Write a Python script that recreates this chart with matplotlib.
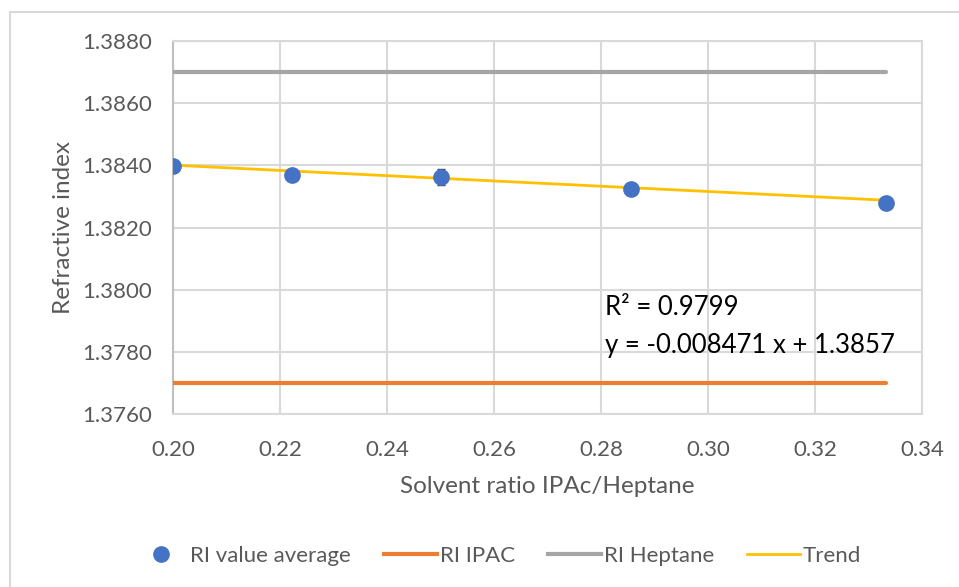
import matplotlib
matplotlib.use("Agg")
import matplotlib.pyplot as plt
from matplotlib.lines import Line2D
from matplotlib.patches import Rectangle
import numpy as np

plt.rcParams['font.family'] = ['Lato', 'DejaVu Sans']

# Measured data
ratio = [0.2000, 0.2222, 0.2500, 0.2857, 0.3333]
ri_avg = [1.38397, 1.38369, 1.38362, 1.38325, 1.38280]
ri_err = [0.00004, 0.00004, 0.00025, 0.00004, 0.00004]

# Reference values of the pure solvents
ri_ipac = 1.3770
ri_heptane = 1.3870

# Linear trend
slope = -0.008471
intercept = 1.3857
r_squared = 0.9799

x_ticks = [0.20, 0.22, 0.24, 0.26, 0.28, 0.30, 0.32, 0.34]
y_ticks = [1.3760, 1.3780, 1.3800, 1.3820, 1.3840, 1.3860, 1.3880]

BLUE = '#4472C4'
ORANGE = '#ED7D31'
GRAY = '#A5A5A5'
YELLOW = '#FFC000'
TEXT = '#595959'
GRID = '#D9D9D9'

fig = plt.figure(figsize=(9.59, 5.87), dpi=100)
fig.patches.append(Rectangle((10 / 959, -0.05), 1.1, 1 - 12 / 587 + 0.05,
                             transform=fig.transFigure, fill=False,
                             edgecolor='#D9D9D9', linewidth=1.5))

ax = fig.add_axes([173 / 959, 1 - 414 / 587, (922 - 173) / 959, (414 - 41) / 587])

xr = np.array([ratio[0], ratio[-1]])
ax.plot(xr, [ri_heptane, ri_heptane], color=GRAY, lw=3, solid_capstyle='round', zorder=3)
ax.plot(xr, [ri_ipac, ri_ipac], color=ORANGE, lw=3, solid_capstyle='round', zorder=3)
ax.plot(xr, slope * xr + intercept, color=YELLOW, lw=2, zorder=3)
ax.errorbar(ratio, ri_avg, yerr=ri_err, fmt='o', color=BLUE, ms=11,
            ecolor='#404040', elinewidth=1, capsize=3, capthick=1, zorder=4)

ax.set_xlim(0.20, 0.34)
ax.set_ylim(1.3760, 1.3880)
ax.set_xticks(x_ticks)
ax.set_xticklabels([f'{v:.2f}' for v in x_ticks])
ax.set_yticks(y_ticks)
ax.set_yticklabels([f'{v:.4f}' for v in y_ticks])
ax.grid(True, color=GRID, lw=1.5)
ax.set_axisbelow(True)
for s in ax.spines.values():
    s.set_color(GRID)
    s.set_linewidth(1.5)
ax.spines['left'].set_color('#BFBFBF')
ax.tick_params(length=0, labelsize=16, colors=TEXT)
ax.tick_params(axis='y', pad=15)
ax.tick_params(axis='x', pad=19)

ax.set_xlabel('Solvent ratio IPAc/Heptane', fontsize=17.5, color=TEXT, labelpad=11)
ax.set_ylabel('Refractive index', fontsize=17.5, color=TEXT, labelpad=6)

ax.text(0.2807, 1.37918, f'R² = {r_squared:.4f}', fontsize=18.5, color='black')
ax.text(0.2807, 1.37796, f'y = {slope:.6f} x + {intercept:.4f}', fontsize=18.5, color='black')

handles = [
    Line2D([], [], marker='o', ls='none', color=BLUE, ms=11),
    Line2D([], [], color=ORANGE, lw=3),
    Line2D([], [], color=GRAY, lw=3),
    Line2D([], [], color=YELLOW, lw=2),
]
labels = ['RI value average', 'RI IPAC', 'RI Heptane', 'Trend']
fig.legend(handles, labels, loc='center', bbox_to_anchor=(0.519, 1 - 556 / 587),
           ncol=4, frameon=False, fontsize=16, labelcolor=TEXT,
           handlelength=2.4, handletextpad=0.1, columnspacing=1.5)

fig.savefig('out.png', dpi=100)
